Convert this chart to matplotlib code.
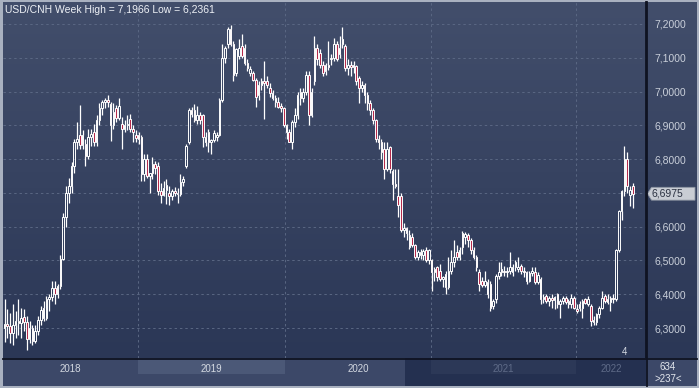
import numpy as np
import matplotlib
matplotlib.use("Agg")
import matplotlib.pyplot as plt
from matplotlib.colors import LinearSegmentedColormap
from matplotlib.ticker import FuncFormatter
from matplotlib.lines import Line2D
from matplotlib.patches import Polygon

# ---------------- data (weekly USD/CNH candles) ----------------
opens = [
    6.300, 6.312, 6.305, 6.285, 6.310, 6.320, 6.315, 6.332, 6.318, 6.268,
    6.300, 6.262, 6.292, 6.325, 6.360, 6.330, 6.385, 6.392, 6.418, 6.400,
    6.425, 6.505, 6.630, 6.700, 6.720, 6.780, 6.850, 6.872, 6.842, 6.845,
    6.810, 6.865, 6.880, 6.852, 6.915, 6.950, 6.968, 6.975, 6.962, 6.900,
    6.950, 6.922, 6.905, 6.890, 6.900, 6.920, 6.890, 6.872, 6.870, 6.865,
    6.755, 6.800, 6.750, 6.758, 6.785, 6.780, 6.705, 6.695, 6.722, 6.700,
    6.690, 6.706, 6.700, 6.696, 6.733, 6.780, 6.850, 6.945, 6.945, 6.915,
    6.930, 6.930, 6.865, 6.880, 6.852, 6.858, 6.865, 6.872, 6.975, 7.100,
    7.140, 7.185, 7.140, 7.055, 7.105, 7.135, 7.130, 7.085, 7.055, 7.055,
    7.035, 6.990, 7.020, 7.030, 7.030, 7.010, 6.995, 6.982, 6.970, 6.958,
    6.950, 6.900, 6.880, 6.852, 6.910, 6.930, 7.000, 6.980, 7.000, 7.050,
    6.930, 7.030, 7.130, 7.115, 7.080, 7.060, 7.080, 7.095, 7.100, 7.140,
    7.110, 7.140, 7.135, 7.070, 7.078, 7.072, 7.075, 7.040, 7.010, 7.020,
    6.990, 6.965, 6.945, 6.915, 6.860, 6.850, 6.830, 6.772, 6.835, 6.765,
    6.725, 6.690, 6.690, 6.590, 6.595, 6.575, 6.570, 6.545, 6.510, 6.525,
    6.515, 6.530, 6.500, 6.500, 6.465, 6.480, 6.470, 6.445, 6.460, 6.420,
    6.470, 6.495, 6.525, 6.510, 6.540, 6.570, 6.575, 6.560, 6.530, 6.510,
    6.465, 6.440, 6.428, 6.435, 6.430, 6.365, 6.385, 6.455, 6.465, 6.470,
    6.465, 6.470, 6.465, 6.480, 6.475, 6.485, 6.470, 6.465, 6.440, 6.462,
    6.465, 6.435, 6.445, 6.385, 6.395, 6.380, 6.390, 6.382, 6.400, 6.370,
    6.380, 6.388, 6.380, 6.370, 6.390, 6.355, 6.372, 6.358, 6.385, 6.372,
    6.365, 6.325, 6.318, 6.340, 6.360, 6.395, 6.385, 6.378, 6.390, 6.385,
    6.530, 6.645, 6.705, 6.800, 6.695, 6.720,
]
highs = [
    6.385, 6.355, 6.345, 6.370, 6.350, 6.385, 6.360, 6.355, 6.335, 6.320,
    6.310, 6.310, 6.335, 6.365, 6.380, 6.395, 6.400, 6.440, 6.440, 6.430,
    6.515, 6.640, 6.720, 6.745, 6.790, 6.860, 6.910, 6.960, 6.885, 6.860,
    6.890, 6.890, 6.905, 6.930, 6.965, 6.975, 6.982, 6.990, 6.970, 6.965,
    6.960, 6.980, 6.925, 6.915, 6.930, 6.935, 6.900, 6.885, 6.880, 6.870,
    6.815, 6.815, 6.760, 6.805, 6.795, 6.790, 6.730, 6.735, 6.740, 6.720,
    6.712, 6.718, 6.715, 6.755, 6.750, 6.845, 6.950, 6.955, 6.962, 6.958,
    6.940, 6.935, 6.880, 6.890, 6.860, 6.885, 6.880, 6.980, 7.140, 7.135,
    7.190, 7.1966, 7.150, 7.130, 7.155, 7.170, 7.140, 7.095, 7.075, 7.060,
    7.040, 7.030, 7.040, 7.090, 7.045, 7.025, 7.005, 6.990, 6.985, 6.965,
    6.955, 6.905, 6.890, 6.915, 6.950, 7.000, 7.010, 7.010, 7.060, 7.060,
    7.010, 7.165, 7.140, 7.125, 7.090, 7.085, 7.150, 7.110, 7.160, 7.150,
    7.165, 7.192, 7.140, 7.095, 7.090, 7.090, 7.080, 7.045, 7.030, 7.025,
    7.000, 6.975, 6.950, 6.920, 6.870, 6.860, 6.850, 6.850, 6.840, 6.770,
    6.770, 6.770, 6.700, 6.610, 6.600, 6.590, 6.580, 6.550, 6.530, 6.535,
    6.535, 6.540, 6.535, 6.505, 6.480, 6.485, 6.490, 6.455, 6.470, 6.510,
    6.530, 6.560, 6.545, 6.540, 6.586, 6.585, 6.580, 6.565, 6.540, 6.515,
    6.475, 6.450, 6.470, 6.445, 6.440, 6.385, 6.460, 6.495, 6.495, 6.485,
    6.480, 6.525, 6.490, 6.500, 6.510, 6.490, 6.480, 6.470, 6.470, 6.480,
    6.480, 6.465, 6.450, 6.400, 6.400, 6.395, 6.400, 6.395, 6.405, 6.385,
    6.395, 6.395, 6.385, 6.400, 6.395, 6.370, 6.380, 6.385, 6.390, 6.395,
    6.370, 6.335, 6.345, 6.365, 6.410, 6.400, 6.400, 6.395, 6.400, 6.535,
    6.650, 6.710, 6.840, 6.820, 6.720, 6.730,
]
lows = [
    6.260, 6.270, 6.255, 6.250, 6.270, 6.280, 6.270, 6.290, 6.2361, 6.255,
    6.250, 6.255, 6.280, 6.310, 6.320, 6.325, 6.350, 6.380, 6.370, 6.390,
    6.415, 6.500, 6.600, 6.670, 6.700, 6.760, 6.830, 6.830, 6.830, 6.780,
    6.800, 6.840, 6.840, 6.840, 6.900, 6.930, 6.950, 6.955, 6.855, 6.890,
    6.910, 6.915, 6.830, 6.880, 6.885, 6.880, 6.850, 6.850, 6.845, 6.735,
    6.735, 6.745, 6.700, 6.740, 6.755, 6.695, 6.670, 6.690, 6.668, 6.665,
    6.680, 6.690, 6.670, 6.690, 6.720, 6.775, 6.845, 6.925, 6.910, 6.905,
    6.905, 6.835, 6.840, 6.820, 6.815, 6.850, 6.855, 6.868, 6.970, 7.085,
    7.130, 7.135, 7.030, 7.045, 7.095, 7.100, 7.080, 7.060, 7.045, 7.030,
    6.955, 6.975, 7.005, 6.920, 7.010, 6.985, 6.975, 6.955, 6.950, 6.940,
    6.895, 6.860, 6.850, 6.830, 6.895, 6.920, 6.960, 6.970, 6.990, 6.900,
    6.925, 7.020, 7.080, 7.070, 7.045, 7.050, 7.065, 7.080, 7.090, 7.090,
    7.100, 7.130, 7.060, 7.050, 7.045, 7.055, 7.020, 6.965, 7.000, 6.965,
    6.945, 6.930, 6.905, 6.850, 6.830, 6.800, 6.740, 6.765, 6.760, 6.680,
    6.715, 6.630, 6.585, 6.570, 6.560, 6.535, 6.540, 6.505, 6.500, 6.505,
    6.500, 6.495, 6.490, 6.410, 6.440, 6.440, 6.440, 6.420, 6.400, 6.415,
    6.460, 6.480, 6.500, 6.500, 6.520, 6.550, 6.540, 6.520, 6.505, 6.470,
    6.410, 6.420, 6.420, 6.390, 6.350, 6.355, 6.375, 6.445, 6.455, 6.455,
    6.450, 6.460, 6.455, 6.470, 6.465, 6.460, 6.450, 6.430, 6.435, 6.455,
    6.430, 6.430, 6.370, 6.375, 6.375, 6.365, 6.360, 6.355, 6.360, 6.330,
    6.370, 6.370, 6.360, 6.360, 6.355, 6.345, 6.350, 6.330, 6.370, 6.365,
    6.305, 6.310, 6.310, 6.330, 6.355, 6.375, 6.370, 6.350, 6.375, 6.380,
    6.525, 6.620, 6.690, 6.700, 6.660, 6.655,
]
closes = [
    6.312, 6.305, 6.285, 6.310, 6.320, 6.315, 6.330, 6.318, 6.268, 6.300,
    6.262, 6.292, 6.325, 6.352, 6.330, 6.385, 6.392, 6.418, 6.400, 6.425,
    6.505, 6.630, 6.700, 6.720, 6.780, 6.850, 6.860, 6.842, 6.870, 6.810,
    6.865, 6.875, 6.852, 6.915, 6.950, 6.968, 6.975, 6.970, 6.900, 6.940,
    6.922, 6.958, 6.890, 6.900, 6.905, 6.890, 6.880, 6.862, 6.860, 6.755,
    6.800, 6.750, 6.758, 6.785, 6.775, 6.705, 6.695, 6.715, 6.708, 6.690,
    6.706, 6.700, 6.696, 6.733, 6.742, 6.840, 6.945, 6.935, 6.915, 6.930,
    6.915, 6.865, 6.850, 6.852, 6.858, 6.878, 6.872, 6.975, 7.100, 7.130,
    7.185, 7.140, 7.050, 7.125, 7.130, 7.105, 7.085, 7.070, 7.068, 7.035,
    6.985, 7.020, 7.030, 7.025, 7.018, 6.995, 6.982, 6.970, 6.955, 6.950,
    6.900, 6.880, 6.852, 6.910, 6.930, 6.990, 6.980, 7.000, 7.050, 6.930,
    7.000, 7.130, 7.095, 7.080, 7.055, 7.080, 7.072, 7.100, 7.140, 7.095,
    7.130, 7.155, 7.070, 7.078, 7.072, 7.080, 7.030, 7.010, 7.020, 6.990,
    6.965, 6.945, 6.915, 6.860, 6.850, 6.820, 6.770, 6.830, 6.770, 6.725,
    6.720, 6.665, 6.590, 6.595, 6.580, 6.540, 6.545, 6.510, 6.525, 6.515,
    6.528, 6.500, 6.530, 6.465, 6.475, 6.450, 6.445, 6.450, 6.420, 6.470,
    6.495, 6.510, 6.510, 6.530, 6.580, 6.578, 6.560, 6.530, 6.510, 6.480,
    6.430, 6.428, 6.440, 6.400, 6.360, 6.380, 6.455, 6.465, 6.475, 6.465,
    6.470, 6.480, 6.480, 6.495, 6.480, 6.470, 6.465, 6.440, 6.462, 6.470,
    6.435, 6.458, 6.385, 6.392, 6.380, 6.390, 6.382, 6.392, 6.370, 6.380,
    6.388, 6.378, 6.370, 6.390, 6.360, 6.350, 6.358, 6.380, 6.375, 6.385,
    6.320, 6.318, 6.340, 6.360, 6.390, 6.380, 6.378, 6.390, 6.385, 6.530,
    6.645, 6.705, 6.800, 6.720, 6.710, 6.6975,
]

price_ticks = [6.3, 6.4, 6.5, 6.6, 6.7, 6.8, 6.9, 7.0, 7.1, 7.2]
hidden_tick = 6.7          # label covered by the last-price tag
year_labels = ["2018", "2019", "2020", "2021", "2022"]
year_starts = [47.8, 100.5, 152.8, 204.6]      # bar position of 1 January
title_text = "USD/CNH Week High = 7,1966 Low = 6,2361"
last_price = 6.6975
corner_texts = ["634", ">237<"]
marker_text = "4"

# ---------------- layout ----------------
W, H = 699, 388
fig = plt.figure(figsize=(W / 100, H / 100), dpi=100)
fig.patch.set_facecolor("#a9b1c0")

def fx(px):
    return px / W

def fy(py):
    return 1 - py / H

def fmt(v):
    return f"{v:.4f}".replace(".", ",")

XMIN, XMAX = -0.54, 229.76
YMIN, YMAX = 6.2112, 7.2651
PLOT_L, PLOT_R, PLOT_T, PLOT_B = 3, 646, 2, 358
BAND_B = 386
RIGHT_R = 697

# gradient background for chart + price panel
bg = fig.add_axes([fx(PLOT_L), fy(PLOT_B), fx(RIGHT_R - PLOT_L), (PLOT_B - PLOT_T) / H])
grad = np.linspace(0, 1, 256).reshape(-1, 1)
cmap = LinearSegmentedColormap.from_list("g", ["#424e6b", "#2b3756"])
bg.imshow(grad, aspect="auto", cmap=cmap, extent=[0, 1, 0, 1], origin="upper")
bg.set_axis_off()

# main chart
ax = fig.add_axes([fx(PLOT_L), fy(PLOT_B), fx(PLOT_R - PLOT_L), (PLOT_B - PLOT_T) / H])
ax.patch.set_alpha(0)
ax.set_xlim(XMIN, XMAX)
ax.set_ylim(YMIN, YMAX)

o = np.array(opens)
h = np.array(highs)
l = np.array(lows)
c = np.array(closes)
x = np.arange(len(c))
up = c >= o
body_lo = np.minimum(o, c)
body_hi = np.maximum(o, c)

# grid
for v in price_ticks:
    ax.axhline(v, color="#5a6783", lw=0.7, ls=(0, (2.5, 3)), zorder=1)
for xs in year_starts:
    ax.axvline(xs, color="#5a6783", lw=0.7, ls=(0, (2.5, 3)), zorder=1)

# candles
ax.vlines(x, body_hi, h, color="white", lw=0.9, zorder=3)
ax.vlines(x, l, body_lo, color="white", lw=0.9, zorder=3)
heights = np.maximum(body_hi - body_lo, 0.003)
faces = ["none" if u else "#b52a4b" for u in up]
ax.bar(x, heights, bottom=body_lo, width=0.58, color=faces,
       edgecolor="white", linewidth=0.7, zorder=4)

# axes styling
for s in ["left", "top", "bottom"]:
    ax.spines[s].set_visible(False)
ax.spines["right"].set_color("#0f1322")
ax.spines["right"].set_linewidth(1.3)
ax.set_xticks([])
ax.yaxis.tick_right()
shown_ticks = [t for t in price_ticks if abs(t - hidden_tick) > 1e-9]
ax.set_yticks(shown_ticks)
ax.set_yticklabels([fmt(t) for t in shown_ticks], fontfamily="Liberation Sans")
ax.tick_params(axis="y", length=0, pad=6, labelsize=7.5, labelcolor="#c9cfda")

ax.text(0.963, 0.004, marker_text, transform=ax.transAxes, ha="left", va="bottom",
        fontsize=7, color="#d5dae3", family="Liberation Sans")

fig.text(fx(5), fy(10), title_text, ha="left", va="center", fontsize=7.5,
         color="#eef1f6", family="Liberation Sans")

# price panel with last-price tag
axr = fig.add_axes([fx(PLOT_R), fy(PLOT_B), fx(RIGHT_R - PLOT_R), (PLOT_B - PLOT_T) / H])
axr.set_axis_off()
axr.set_xlim(0, RIGHT_R - PLOT_R)
axr.set_ylim(YMIN, YMAX)
dh = 0.019
tag = Polygon([[1.5, last_price], [5.5, last_price + dh], [49, last_price + dh],
               [49, last_price - dh], [5.5, last_price - dh]],
              closed=True, facecolor="#c9cdd4", edgecolor="#8d95a3", lw=0.6)
axr.add_patch(tag)
axr.text(6.0, last_price, fmt(last_price), ha="left", va="center",
         fontsize=7.5, color="#2a3040", family="Liberation Sans")

# bottom time band
axb = fig.add_axes([fx(PLOT_L), fy(BAND_B), fx(PLOT_R - PLOT_L), (BAND_B - PLOT_B) / H])
axb.set_xlim(XMIN, XMAX)
axb.set_ylim(0, 1)
axb.set_axis_off()
axb.axvspan(XMIN, 143.4, color="#3c4868", lw=0)
axb.axvspan(143.4, XMAX, color="#243050", lw=0)
axb.fill_between([year_starts[0], year_starts[1]], 0.42, 1.0, color="#4b5877", lw=0)
axb.fill_between([year_starts[2], year_starts[3]], 0.42, 1.0, color="#2c3857", lw=0)
bounds = [XMIN] + year_starts + [XMAX]
label_colors = ["#d3d8e1", "#d3d8e1", "#d3d8e1", "#5f6b88", "#5f6b88"]
for i, lab in enumerate(year_labels):
    xc = (bounds[i] + bounds[i + 1]) / 2
    axb.text(xc, 0.6, lab, ha="center", va="center", fontsize=7,
             color=label_colors[i], family="Liberation Sans")

# bottom-right cell
axc = fig.add_axes([fx(PLOT_R), fy(BAND_B), fx(RIGHT_R - PLOT_R), (BAND_B - PLOT_B) / H])
axc.set_axis_off()
axc.add_patch(plt.Rectangle((0, 0), 1, 1, transform=axc.transAxes, color="#3c4868", lw=0))
fig.text(fx(668), fy(367), corner_texts[0], ha="center", va="center", fontsize=7,
         color="#e3e7ee", family="Liberation Sans")
fig.text(fx(668), fy(379), corner_texts[1], ha="center", va="center", fontsize=7,
         color="#e3e7ee", family="Liberation Sans")

# separator lines
fig.add_artist(Line2D([fx(PLOT_L), fx(RIGHT_R)], [fy(PLOT_B + 0.5)] * 2, color="#0f1322", lw=1.3))
fig.add_artist(Line2D([fx(PLOT_R + 0.5)] * 2, [fy(BAND_B), fy(PLOT_T)], color="#0f1322", lw=1.3))

fig.savefig("out.png", dpi=100, facecolor=fig.get_facecolor())
